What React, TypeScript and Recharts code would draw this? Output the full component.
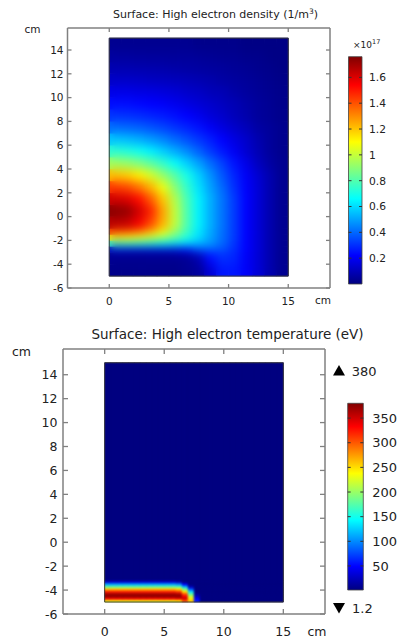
import React from 'react';
import { BarChart, ComposedChart, Bar, Cell, XAxis, YAxis, ReferenceArea } from 'recharts';

const FONT = '"DejaVu Sans", Verdana, sans-serif';
const INK = '#222';
const FRAME = '#808080';

// ---- top panel: electron density, units of 1e17 1/m^3 ----
const DENSITY_X = [0.5, 1.5, 2.5, 3.5, 4.5, 5.5, 6.5, 7.5, 8.5, 9.5, 10.5, 11.5, 12.5, 13.5, 14.5];
const DENSITY_ROW_EDGES = [-5, -4, -3, -2.5, -2, -1.5, -1, 0, 1, 2, 3, 4, 5, 6, 7, 8, 9, 10, 11, 12, 13, 14, 15];
// rows from bottom (y = -5) to top (y = 15)
const DENSITY = [
  [0.02, 0.02, 0.02, 0.02, 0.02, 0.02, 0.03, 0.05, 0.15, 0.26, 0.26, 0.21, 0.15, 0.08, 0.03],
  [0.03, 0.03, 0.03, 0.03, 0.03, 0.03, 0.04, 0.08, 0.24, 0.3, 0.28, 0.21, 0.15, 0.08, 0.03],
  [0.12, 0.12, 0.12, 0.12, 0.12, 0.14, 0.2, 0.34, 0.38, 0.36, 0.3, 0.22, 0.15, 0.08, 0.03],
  [0.72, 0.72, 0.71, 0.69, 0.66, 0.63, 0.6, 0.54, 0.48, 0.4, 0.31, 0.22, 0.15, 0.08, 0.03],
  [1.12, 1.1, 1.06, 1.0, 0.92, 0.82, 0.71, 0.6, 0.5, 0.41, 0.32, 0.22, 0.15, 0.08, 0.03],
  [1.42, 1.4, 1.33, 1.22, 1.08, 0.92, 0.77, 0.62, 0.51, 0.41, 0.32, 0.22, 0.15, 0.08, 0.03],
  [1.66, 1.64, 1.56, 1.42, 1.24, 1.0, 0.8, 0.64, 0.52, 0.42, 0.32, 0.22, 0.15, 0.08, 0.03],
  [1.74, 1.72, 1.62, 1.48, 1.26, 1.0, 0.8, 0.64, 0.52, 0.42, 0.32, 0.22, 0.15, 0.08, 0.03],
  [1.62, 1.6, 1.52, 1.38, 1.2, 0.97, 0.79, 0.64, 0.52, 0.42, 0.32, 0.22, 0.15, 0.08, 0.03],
  [1.44, 1.41, 1.34, 1.23, 1.07, 0.9, 0.75, 0.61, 0.5, 0.4, 0.3, 0.215, 0.15, 0.08, 0.03],
  [1.21, 1.19, 1.13, 1.03, 0.92, 0.81, 0.7, 0.58, 0.47, 0.37, 0.28, 0.205, 0.14, 0.08, 0.03],
  [0.94, 0.92, 0.88, 0.82, 0.75, 0.67, 0.58, 0.5, 0.41, 0.33, 0.25, 0.18, 0.11, 0.06, 0.03],
  [0.74, 0.72, 0.69, 0.64, 0.58, 0.52, 0.46, 0.39, 0.32, 0.26, 0.2, 0.14, 0.09, 0.05, 0.025],
  [0.56, 0.545, 0.52, 0.49, 0.45, 0.405, 0.36, 0.315, 0.27, 0.22, 0.17, 0.13, 0.08, 0.05, 0.025],
  [0.41, 0.4, 0.385, 0.365, 0.34, 0.31, 0.28, 0.25, 0.205, 0.165, 0.13, 0.1, 0.065, 0.045, 0.025],
  [0.31, 0.305, 0.295, 0.28, 0.265, 0.245, 0.22, 0.19, 0.155, 0.13, 0.1, 0.075, 0.05, 0.035, 0.02],
  [0.24, 0.24, 0.23, 0.22, 0.21, 0.19, 0.17, 0.15, 0.13, 0.11, 0.09, 0.07, 0.05, 0.035, 0.02],
  [0.18, 0.18, 0.17, 0.17, 0.16, 0.15, 0.13, 0.12, 0.1, 0.09, 0.07, 0.055, 0.04, 0.03, 0.02],
  [0.125, 0.125, 0.12, 0.115, 0.11, 0.105, 0.095, 0.085, 0.075, 0.065, 0.055, 0.045, 0.035, 0.025, 0.015],
  [0.085, 0.085, 0.08, 0.08, 0.075, 0.07, 0.065, 0.06, 0.055, 0.05, 0.04, 0.035, 0.025, 0.02, 0.01],
  [0.055, 0.055, 0.05, 0.05, 0.05, 0.045, 0.045, 0.04, 0.035, 0.03, 0.03, 0.02, 0.02, 0.01, 0.01],
  [0.03, 0.03, 0.03, 0.03, 0.03, 0.03, 0.03, 0.02, 0.02, 0.02, 0.02, 0.01, 0.01, 0.01, 0.01],
];
const DENSITY_MIN = 0;
const DENSITY_MAX = 1.76;
const DENSITY_BAR_TICKS = [0.2, 0.4, 0.6, 0.8, 1, 1.2, 1.4, 1.6];

// ---- bottom panel: electron temperature, eV ----
const TEMP_X = [
  0.25, 0.75, 1.25, 1.75, 2.25, 2.75, 3.25, 3.75, 4.25, 4.75, 5.25, 5.75, 6.25, 6.75, 7.25,
  7.75, 8.25, 8.75, 9.25, 9.75, 10.25, 10.75, 11.25, 11.75, 12.25, 12.75, 13.25, 13.75, 14.25, 14.75,
];
const TEMP_ROW_EDGES = [-5, -4.8, -4.6, -4.4, -4.2, -4, -3.8, -3.6, -3.4, -3.2, 15];
const TEMP = [
  [230, 230, 230, 230, 230, 230, 230, 230, 230, 230, 230, 230, 240, 300, 260, 60, 1.2, 1.2, 1.2, 1.2, 1.2, 1.2, 1.2, 1.2, 1.2, 1.2, 1.2, 1.2, 1.2, 1.2],
  [330, 330, 330, 330, 330, 330, 330, 330, 330, 330, 330, 330, 340, 350, 245, 45, 1.2, 1.2, 1.2, 1.2, 1.2, 1.2, 1.2, 1.2, 1.2, 1.2, 1.2, 1.2, 1.2, 1.2],
  [375, 375, 375, 375, 375, 375, 375, 375, 375, 375, 375, 375, 375, 335, 215, 25, 1.2, 1.2, 1.2, 1.2, 1.2, 1.2, 1.2, 1.2, 1.2, 1.2, 1.2, 1.2, 1.2, 1.2],
  [365, 365, 365, 365, 365, 365, 365, 365, 365, 365, 365, 365, 360, 300, 175, 8, 1.2, 1.2, 1.2, 1.2, 1.2, 1.2, 1.2, 1.2, 1.2, 1.2, 1.2, 1.2, 1.2, 1.2],
  [320, 320, 320, 320, 320, 320, 320, 320, 320, 320, 320, 320, 310, 250, 130, 1.2, 1.2, 1.2, 1.2, 1.2, 1.2, 1.2, 1.2, 1.2, 1.2, 1.2, 1.2, 1.2, 1.2, 1.2],
  [260, 260, 260, 260, 260, 260, 260, 260, 260, 260, 260, 260, 250, 185, 75, 1.2, 1.2, 1.2, 1.2, 1.2, 1.2, 1.2, 1.2, 1.2, 1.2, 1.2, 1.2, 1.2, 1.2, 1.2],
  [180, 180, 180, 180, 180, 180, 180, 180, 180, 180, 180, 180, 175, 115, 20, 1.2, 1.2, 1.2, 1.2, 1.2, 1.2, 1.2, 1.2, 1.2, 1.2, 1.2, 1.2, 1.2, 1.2, 1.2],
  [110, 110, 110, 110, 110, 110, 110, 110, 110, 110, 110, 110, 100, 45, 1.2, 1.2, 1.2, 1.2, 1.2, 1.2, 1.2, 1.2, 1.2, 1.2, 1.2, 1.2, 1.2, 1.2, 1.2, 1.2],
  [30, 30, 30, 30, 30, 30, 30, 30, 30, 30, 30, 30, 20, 1.2, 1.2, 1.2, 1.2, 1.2, 1.2, 1.2, 1.2, 1.2, 1.2, 1.2, 1.2, 1.2, 1.2, 1.2, 1.2, 1.2],
  [1.2, 1.2, 1.2, 1.2, 1.2, 1.2, 1.2, 1.2, 1.2, 1.2, 1.2, 1.2, 1.2, 1.2, 1.2, 1.2, 1.2, 1.2, 1.2, 1.2, 1.2, 1.2, 1.2, 1.2, 1.2, 1.2, 1.2, 1.2, 1.2, 1.2],
];
const TEMP_MIN = 1.2;
const TEMP_MAX = 380;
const TEMP_BAR_TICKS = [50, 100, 150, 200, 250, 300, 350];

const X_TICKS = [0, 5, 10, 15];
const Y_TICKS = [-6, -4, -2, 0, 2, 4, 6, 8, 10, 12, 14];
const DATA_X = [0, 15];
const DATA_Y = [-5, 15];

// jet colour map
const jet = (t: number) => {
  const c = (v: number) => Math.round(255 * Math.max(0, Math.min(1, v)));
  return `rgb(${c(1.5 - Math.abs(4 * t - 3))},${c(1.5 - Math.abs(4 * t - 2))},${c(1.5 - Math.abs(4 * t - 1))})`;
};
const JET_STOPS = [
  [0, '#000080'],
  [0.125, '#0000ff'],
  [0.375, '#00ffff'],
  [0.625, '#ffff00'],
  [0.875, '#ff0000'],
  [1, '#800000'],
];

const buildTable = (xs: number[], edges: number[]) =>
  xs.map((x) => {
    const row: Record<string, number> = { x, base: edges[0] };
    for (let r = 0; r < edges.length - 1; r++) row[`r${r}`] = edges[r + 1] - edges[r];
    return row;
  });

const frameTicks = (font: number, yGap: number, xGap: number, len: number) => ({
  left: (pr: any) => (
    <g>
      <line x1={pr.x + yGap} x2={pr.x + yGap + len} y1={pr.y} y2={pr.y} stroke={FRAME} strokeWidth={1.3} />
      <text x={pr.x} y={pr.y} dy="0.36em" textAnchor="end" fontSize={font} fill={INK} fontFamily={FONT}>
        {pr.payload.value}
      </text>
    </g>
  ),
  bottom: (pr: any) => (
    <g>
      <line x1={pr.x} x2={pr.x} y1={pr.y - xGap} y2={pr.y - xGap - len} stroke={FRAME} strokeWidth={1.3} />
      <text x={pr.x} y={pr.y} dy="0.36em" textAnchor="middle" fontSize={font} fill={INK} fontFamily={FONT}>
        {pr.payload.value}
      </text>
    </g>
  ),
  top: (pr: any) => <line x1={pr.x} x2={pr.x} y1={pr.y} y2={pr.y + len} stroke={FRAME} strokeWidth={1.3} />,
  right: (pr: any) => <line x1={pr.x - len} x2={pr.x} y1={pr.y} y2={pr.y} stroke={FRAME} strokeWidth={1.3} />,
});

type Margin = { top: number; right: number; bottom: number; left: number };

interface PanelProps {
  top: number;
  height: number;
  margin: Margin;
  xDomain: number[];
  yDomain: number[];
  xs: number[];
  edges: number[];
  values: number[][];
  colorOf: (v: number) => string;
  blur: number;
  font: number;
  yGap: number;
  xGap: number;
  tickLen: number;
}

const W = 398;

function HeatBars({ p, table }: { p: PanelProps; table: Record<string, number>[] }) {
  return (
    <BarChart width={W} height={p.height} data={table} margin={p.margin} barCategoryGap={0} barGap={0}>
      <XAxis dataKey="x" type="number" domain={p.xDomain} allowDataOverflow hide />
      <YAxis type="number" domain={p.yDomain} allowDataOverflow hide />
      <Bar dataKey="base" stackId="s" fill="transparent" isAnimationActive={false} />
      {p.values.map((vals, r) => (
        <Bar key={r} dataKey={`r${r}`} stackId="s" isAnimationActive={false}>
          {vals.map((v, c) => {
            const col = p.colorOf(v);
            return <Cell key={c} fill={col} stroke={col} strokeWidth={0.6} />;
          })}
        </Bar>
      ))}
    </BarChart>
  );
}

function HeatPanel(p: PanelProps) {
  const table = buildTable(p.xs, p.edges);
  const t = frameTicks(p.font, p.yGap, p.xGap, p.tickLen);
  const axisLine = { stroke: FRAME, strokeWidth: 1.5 };
  const m = p.margin;
  // axes are 1px thick boxes, so the axes chart gets a margin 1px smaller on each side
  const am = { top: m.top - 1, right: m.right - 1, bottom: m.bottom - 1, left: m.left - 1 };
  // clip region of the smoothed copy: the data rectangle
  const pw = W - m.left - m.right;
  const ph = p.height - m.top - m.bottom;
  const sx = (v: number) => m.left + ((v - p.xDomain[0]) / (p.xDomain[1] - p.xDomain[0])) * pw;
  const sy = (v: number) => m.top + ((p.yDomain[1] - v) / (p.yDomain[1] - p.yDomain[0])) * ph;
  const clip = `inset(${sy(DATA_Y[1])}px ${W - sx(DATA_X[1])}px ${p.height - sy(DATA_Y[0])}px ${sx(DATA_X[0])}px)`;
  return (
    <div style={{ position: 'absolute', left: 0, top: p.top, width: W, height: p.height }}>
      <div style={{ position: 'absolute', left: 0, top: 0 }}>
        <HeatBars p={p} table={table} />
      </div>
      <div style={{ position: 'absolute', left: 0, top: 0, filter: `blur(${p.blur}px)`, clipPath: clip }}>
        <HeatBars p={p} table={table} />
      </div>
      <div style={{ position: 'absolute', left: 0, top: 0 }}>
        <ComposedChart width={W} height={p.height} data={table} margin={am}>
          <XAxis xAxisId="b" dataKey="x" type="number" domain={p.xDomain} allowDataOverflow ticks={X_TICKS}
            interval={0} height={1} tickSize={0} tickMargin={p.xGap} tickLine={false} axisLine={axisLine} tick={t.bottom} />
          <XAxis xAxisId="t" orientation="top" dataKey="x" type="number" domain={p.xDomain} allowDataOverflow ticks={X_TICKS}
            interval={0} height={1} tickSize={0} tickMargin={0} tickLine={false} axisLine={axisLine} tick={t.top} />
          <YAxis yAxisId="l" type="number" domain={p.yDomain} allowDataOverflow ticks={Y_TICKS}
            interval={0} width={1} tickSize={0} tickMargin={p.yGap} tickLine={false} axisLine={axisLine} tick={t.left} />
          <YAxis yAxisId="r" orientation="right" type="number" domain={p.yDomain} allowDataOverflow ticks={Y_TICKS}
            interval={0} width={1} tickSize={0} tickMargin={0} tickLine={false} axisLine={axisLine} tick={t.right} />
          <ReferenceArea xAxisId="b" yAxisId="l" x1={DATA_X[0]} x2={DATA_X[1]} y1={DATA_Y[0]} y2={DATA_Y[1]}
            fill="none" stroke="#3a3a3a" strokeWidth={1} />
        </ComposedChart>
      </div>
    </div>
  );
}

interface BarProps {
  left: number;
  top: number;
  height: number;
  margin: Margin;
  domain: number[];
  ticks: number[];
  font: number;
  gap: number;
  barW: number;
}

function ColorBar(p: BarProps) {
  const tick = (pr: any) => {
    const xr = pr.x - p.gap;
    return (
      <g>
        <line x1={xr} x2={xr - 3} y1={pr.y} y2={pr.y} stroke="#333" strokeWidth={1} />
        <line x1={xr - p.barW} x2={xr - p.barW + 3} y1={pr.y} y2={pr.y} stroke="#333" strokeWidth={1} />
        <text x={pr.x} y={pr.y} dy="0.36em" textAnchor="start" fontSize={p.font} fill={INK} fontFamily={FONT}>
          {pr.payload.value}
        </text>
      </g>
    );
  };
  return (
    <div style={{ position: 'absolute', left: p.left, top: p.top }}>
      <ComposedChart width={58} height={p.height} margin={{ ...p.margin, right: p.margin.right - 1 }} data={[{ x: 0 }, { x: 1 }]}>
        <XAxis dataKey="x" type="number" domain={[0, 1]} hide />
        <YAxis orientation="right" type="number" domain={p.domain} allowDataOverflow ticks={p.ticks} interval={0}
          width={1} tickSize={0} tickMargin={p.gap} axisLine={false} tickLine={false} tick={tick} />
        <ReferenceArea x1={0} x2={1} y1={p.domain[0]} y2={p.domain[1]} fill="url(#jetV)" fillOpacity={1}
          stroke="#444" strokeWidth={0.8} />
      </ComposedChart>
    </div>
  );
}

function Defs() {
  return (
    <svg width={0} height={0} style={{ position: 'absolute', left: 0, top: 0 }}>
      <defs>
        <linearGradient id="jetV" x1="0" y1="1" x2="0" y2="0">
          {JET_STOPS.map(([o, c]) => (
            <stop key={String(o)} offset={Number(o)} stopColor={String(c)} />
          ))}
        </linearGradient>
      </defs>
    </svg>
  );
}

export default function App() {
  return (
    <div style={{ position: 'relative', width: W, height: 639, background: '#fff', fontFamily: FONT }}>
      <style>{'body{margin:0}'}</style>
      <Defs />
      <HeatPanel
        top={0}
        height={310}
        margin={{ top: 28, right: 68, bottom: 22, left: 67.5 }}
        xDomain={[-3.5, 18.5]}
        yDomain={[-6, 15.85]}
        xs={DENSITY_X}
        edges={DENSITY_ROW_EDGES}
        values={DENSITY}
        colorOf={(v) => jet((v - DENSITY_MIN) / (DENSITY_MAX - DENSITY_MIN))}
        blur={5}
        font={10.5}
        yGap={4}
        xGap={13}
        tickLen={4}
      />
      <HeatPanel
        top={330}
        height={309}
        margin={{ top: 19, right: 73, bottom: 25, left: 63 }}
        xDomain={[-3.5, 18.5]}
        yDomain={[-6, 16.15]}
        xs={TEMP_X}
        edges={TEMP_ROW_EDGES}
        values={TEMP}
        colorOf={(v) => jet((v - TEMP_MIN) / (TEMP_MAX - TEMP_MIN))}
        blur={1.2}
        font={12.5}
        yGap={5.5}
        xGap={17}
        tickLen={5}
      />
      <ColorBar left={340} top={50} height={240} margin={{ top: 6.7, bottom: 6, left: 8.5, right: 36 }}
        domain={[DENSITY_MIN, DENSITY_MAX]} ticks={DENSITY_BAR_TICKS} font={10.7} gap={7} barW={13.5} />
      <ColorBar left={340} top={395} height={205} margin={{ top: 8.3, bottom: 10, left: 7.7, right: 34.7 }}
        domain={[TEMP_MIN, TEMP_MAX]} ticks={TEMP_BAR_TICKS} font={13} gap={9} barW={15.6} />
      <svg width={W} height={639} style={{ position: 'absolute', left: 0, top: 0, pointerEvents: 'none' }}
        fontFamily={FONT} fill={INK}>
        <text x={215.5} y={17.5} textAnchor="middle" fontSize={11}>
          Surface: High electron density (1/m<tspan dy={-4} fontSize={7.5}>3</tspan><tspan dy={4}>)</tspan>
        </text>
        <text x={32.5} y={29} dy="0.36em" textAnchor="middle" fontSize={10.5}>cm</text>
        <text x={323} y={300} dy="0.36em" textAnchor="middle" fontSize={10.5}>cm</text>
        <text x={353} y={48} fontSize={9}>
          ×10<tspan dy={-4} fontSize={6.5}>17</tspan>
        </text>
        <text x={227.5} y={338.5} textAnchor="middle" fontSize={13.5}>Surface: High electron temperature (eV)</text>
        <text x={21.5} y={351} dy="0.36em" textAnchor="middle" fontSize={12.5}>cm</text>
        <text x={317} y={631} dy="0.36em" textAnchor="middle" fontSize={12.5}>cm</text>
        <polygon points="333,375.5 345,375.5 339,365" fill="#000" />
        <text x={351.7} y={371} dy="0.36em" fontSize={13}>380</text>
        <polygon points="333,603 345,603 339,613.5" fill="#000" />
        <text x={352} y={608} dy="0.36em" fontSize={13}>1.2</text>
      </svg>
    </div>
  );
}
